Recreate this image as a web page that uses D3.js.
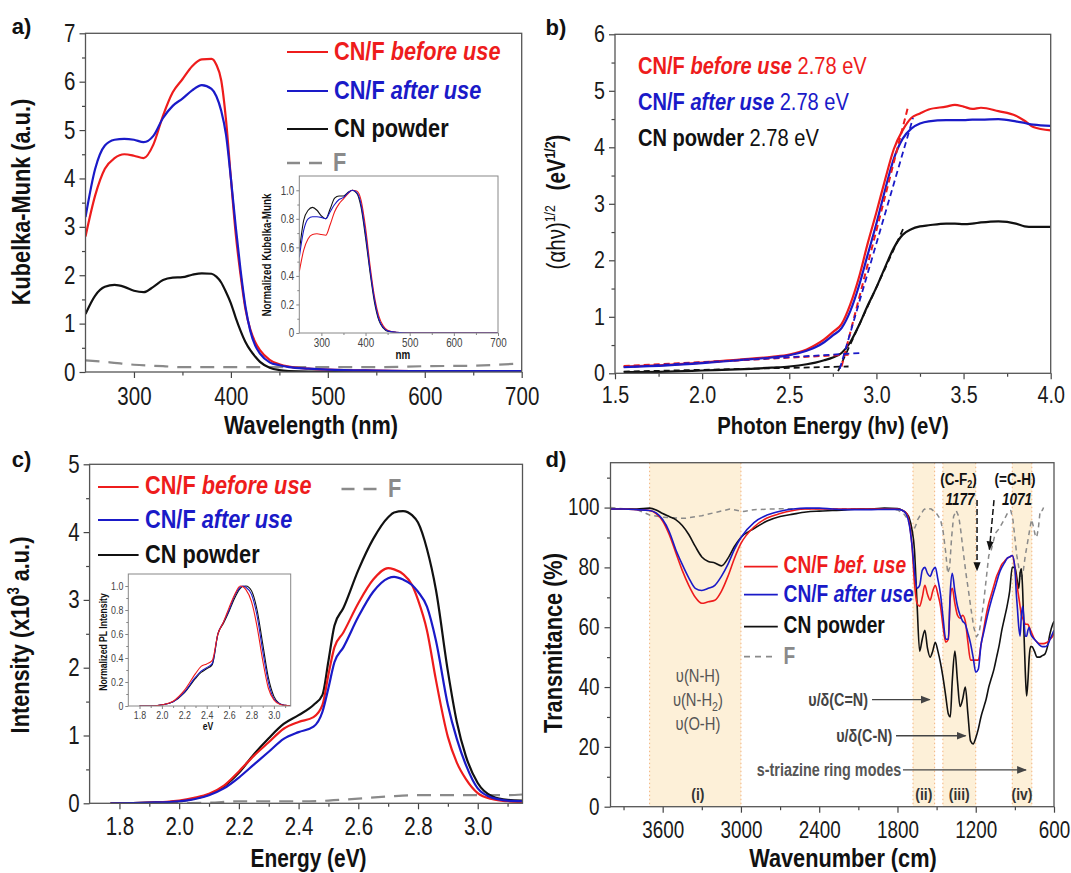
<!DOCTYPE html>
<html><head><meta charset="utf-8">
<script src="https://cdn.jsdelivr.net/npm/d3@7"></script>
<style>
body{margin:0;background:#fff;}
svg text{font-family:"Liberation Sans",Arial,sans-serif;}
</style></head><body>
<svg id="fig" width="1071" height="873"></svg>
<script>
// ---------- DATA ----------
// (a) Kubelka-Munk vs wavelength
const aWl = [250,260,270,280,290,300,310,320,330,340,350,360,370,380,385,390,395,400,405,410,415,420,425,430,440,450,460,480,500,550,600,650,700];
const aBefore = [2.8,3.65,4.2,4.42,4.5,4.47,4.42,4.7,5.3,5.78,6.05,6.32,6.46,6.47,6.35,6.03,5.2,4.0,2.85,2.0,1.3,0.88,0.62,0.45,0.25,0.16,0.11,0.07,0.05,0.03,0.02,0.02,0.02];
const aAfter  = [3.2,4.2,4.68,4.8,4.82,4.8,4.75,4.88,5.25,5.5,5.65,5.82,5.93,5.85,5.7,5.4,4.9,4.0,3.0,2.1,1.35,0.85,0.55,0.38,0.2,0.14,0.1,0.07,0.05,0.03,0.02,0.02,0.02];
const aCN     = [1.2,1.58,1.76,1.8,1.76,1.68,1.65,1.76,1.9,1.95,1.96,2.01,2.04,2.03,1.97,1.85,1.65,1.42,1.12,0.85,0.62,0.45,0.32,0.21,0.09,0.04,0.02,0.01,0.01,0.0,0.0,0.0,0.0];
const aFWl = [250,275,300,330,350,400,450,500,550,600,650,700];
const aF   = [0.24,0.2,0.15,0.12,0.1,0.1,0.1,0.1,0.1,0.12,0.13,0.18];
// (a) inset normalized
const anWl = [250,260,270,280,290,300,310,320,330,340,350,360,370,380,390,400,410,420,430,440,450,470,500,550,600,700];
const anBefore = [0.43,0.58,0.66,0.69,0.695,0.69,0.685,0.76,0.85,0.905,0.94,0.975,1.0,0.995,0.93,0.74,0.48,0.26,0.12,0.05,0.02,0.005,0,0,0,0];
const anAfter  = [0.53,0.72,0.8,0.815,0.815,0.81,0.8,0.85,0.9,0.935,0.95,0.98,1.0,0.985,0.9,0.7,0.45,0.24,0.1,0.04,0.015,0.005,0,0,0,0];
const anCN     = [0.57,0.79,0.86,0.88,0.86,0.82,0.8,0.87,0.945,0.96,0.96,0.985,1.0,0.98,0.88,0.67,0.43,0.22,0.09,0.035,0.012,0.004,0,0,0,0];
// (b) Tauc plot
const bE = [1.55,1.8,2.0,2.2,2.4,2.5,2.6,2.65,2.7,2.75,2.8,2.85,2.9,2.95,3.0,3.05,3.1,3.15,3.2,3.25,3.3,3.4,3.45,3.5,3.55,3.6,3.7,3.8,3.85,3.9,4.0];
const bBefore = [0.12,0.15,0.19,0.24,0.29,0.33,0.42,0.5,0.6,0.73,0.87,1.22,1.7,2.3,2.85,3.43,3.97,4.3,4.52,4.6,4.67,4.72,4.75,4.72,4.68,4.7,4.64,4.56,4.47,4.36,4.3];
const bAfter  = [0.11,0.14,0.18,0.23,0.28,0.32,0.4,0.46,0.55,0.67,0.8,1.1,1.55,2.1,2.65,3.25,3.8,4.15,4.33,4.42,4.46,4.48,4.48,4.48,4.49,4.49,4.5,4.46,4.43,4.4,4.38];
const bCN     = [0.02,0.03,0.05,0.07,0.1,0.12,0.16,0.19,0.23,0.28,0.36,0.55,0.85,1.2,1.52,1.88,2.22,2.45,2.55,2.6,2.62,2.65,2.65,2.64,2.65,2.67,2.69,2.65,2.6,2.59,2.59];
// (b) tangent fits [x, y] end points
const bFitBeforeBase = [[1.55,0.13],[2.84,0.33]];
const bFitBeforeEdge = [[2.80,0.12],[3.18,4.7]];
const bFitAfterBase  = [[1.55,0.11],[2.91,0.36]];
const bFitAfterEdge  = [[2.79,0.08],[3.21,4.52]];
const bFitCNBase     = [[1.55,0.03],[2.84,0.12]];
const bFitCNEdge     = [[2.78,0.04],[3.16,2.6]];
const bGap = ["2.78 eV","2.78 eV","2.78 eV"];
// (c) PL spectra
const cE = [1.77,1.9,2.0,2.05,2.1,2.15,2.2,2.25,2.3,2.35,2.4,2.45,2.48,2.5,2.52,2.55,2.6,2.65,2.7,2.72,2.75,2.78,2.8,2.83,2.86,2.9,2.93,2.96,3.0,3.05,3.1,3.15];
const cBefore = [0,0.01,0.04,0.08,0.14,0.26,0.47,0.7,0.9,1.1,1.2,1.27,1.45,1.9,2.3,2.52,2.95,3.3,3.47,3.45,3.38,3.22,3.0,2.55,1.82,0.98,0.6,0.36,0.15,0.06,0.03,0.02];
const cAfter  = [0,0.01,0.03,0.06,0.12,0.22,0.38,0.57,0.76,0.95,1.05,1.13,1.35,1.7,2.08,2.3,2.75,3.12,3.32,3.34,3.3,3.22,3.12,2.9,2.4,1.45,0.95,0.57,0.22,0.08,0.04,0.03];
const cCN     = [0,0.01,0.03,0.07,0.13,0.25,0.45,0.72,0.96,1.17,1.3,1.45,1.6,2.1,2.62,2.88,3.44,3.9,4.22,4.29,4.31,4.25,4.14,3.75,3.15,1.95,1.2,0.7,0.3,0.1,0.05,0.04];
const cFE = [1.95,2.1,2.2,2.3,2.4,2.5,2.6,2.7,2.8,2.9,3.0,3.1,3.15];
const cF  = [0,0.01,0.03,0.03,0.03,0.04,0.07,0.1,0.12,0.12,0.12,0.12,0.13];
// (c) inset normalized
const cnE = [1.8,1.9,2.0,2.1,2.2,2.3,2.35,2.4,2.45,2.5,2.55,2.6,2.65,2.7,2.72,2.75,2.8,2.85,2.9,2.95,3.0,3.05,3.1,3.15];
const cnBefore = [0,0,0.01,0.04,0.13,0.27,0.33,0.35,0.38,0.6,0.7,0.82,0.93,1.0,0.995,0.97,0.87,0.66,0.38,0.15,0.05,0.015,0.005,0];
const cnAfter  = [0,0,0.01,0.035,0.115,0.24,0.29,0.32,0.355,0.6,0.7,0.8,0.92,0.99,1.0,0.99,0.93,0.75,0.46,0.2,0.06,0.02,0.005,0];
const cnCN     = [0,0,0.01,0.035,0.11,0.23,0.28,0.31,0.345,0.6,0.69,0.79,0.9,0.98,0.995,1.0,0.96,0.8,0.52,0.24,0.08,0.02,0.005,0];
// (d) FTIR
const dWn = [4000,3900,3800,3700,3650,3600,3550,3500,3450,3400,3350,3300,3250,3200,3150,3100,3050,3000,2900,2800,2700,2600,2500,2400,2300,2200,2100,2000,1900,1800,1760,1730,1710,1690,1670,1650,1630,1610,1590,1570,1550,1530,1510,1490,1470,1450,1430,1410,1395,1380,1360,1340,1320,1300,1280,1260,1240,1220,1200,1180,1160,1140,1120,1100,1080,1060,1040,1020,1000,980,960,940,920,900,890,880,870,860,850,840,830,820,810,800,790,780,770,750,730,710,690,670,650,630,610,600];
const dCN = [99.5,99.5,99.5,99.8,99.2,98,97,96,94,91,87,83.5,82,81.5,80.5,83,87,90,93,95.5,97,97.8,98.5,98.8,99,99.2,99.5,99.5,99.8,99.7,99,98,96.5,93,86,68,52,56,59,53,50,52,55,52,48,43,37,31,30,42,52,42,33.5,36,40,31,22,21,23,26,30,33,36,40,43,46,50,54,59,63,67,72,80,80,78,75,73,78,79.5,72,58,45,37,42,50,53.5,53.5,52,50,50,50.5,51,53.5,58,61,62];
const dBefore = [99.5,99.5,99.3,99,98,95.5,91,85,79,74,70,68,68.5,69,72,77,83,88,93.5,96.5,98,99,99.5,99.5,99.5,99.5,99.5,99.5,99.5,99.5,99,98,95,88,75,68,67,70,74,71,69,72,74,71,67,60,55,56,70,73,68,64,63,64,62,55,49,49,49,49,54,59,64,68,71,74,77,79,81,82,83,83.5,84,80,76,73,70,67,64,63,62,61,61,61,60,59,58,56,55,54.5,54.5,54.6,55,56,57,58];
const dAfter  = [99.5,99.5,99.3,99,98.2,96,92,86,81,76.5,73,72.3,73,74,77,81,86,90,95,97.5,98.8,99.5,99.8,99.8,99.5,99.3,99.3,99.3,99.4,99.4,99,97.5,94.5,88,79,73,74,79,80,78,77,79,80,76,71,63,56,56,72,78,72,67,64,62,61,58,54.6,50,45,46,54,58,62,65.7,69,72,75,78,80,81.5,83,83.5,84,80,72,66,60,57,64,67,62,57,57,59,60,58,57,56,55,54,53.5,53.5,54,56,58,59];
const dFWn = [4000,3900,3800,3700,3600,3500,3428,3300,3164,3085,2979,2900,2700,2500,2200,2000,1850,1800,1753,1720,1686,1660,1645,1600,1579,1540,1500,1470,1450,1430,1415,1400,1385,1370,1350,1330,1315,1295,1275,1255,1235,1215,1195,1175,1160,1140,1120,1100,1080,1050,1020,997,970,950,931,915,900,885,870,851,835,820,800,785,772,760,745,733,720,706,690,680];
const dF   = [100,99.6,99.4,97.5,96.8,96.5,96.4,97.3,98.7,99.5,98.7,99.3,99.6,99.6,99.6,99.6,99.5,99.2,98,96,91.4,94,96,99.2,99.8,99.5,98,96,92,85,78,80,90,97,99,97,92.4,85,78,72,65.7,60,56.8,58,62,68,76,84,86,91.4,93,94.8,97,98.7,99,96,90,84,80,75.7,79,84,89,93,96,94,91,90,93,99,99,100];
// (d) bands [from, to] and labels
const dBands = [[3700,3000],[1681,1515],[1452,1200],[920,770]];
const dBandLabels = ["(i)","(ii)","(iii)","(iv)"];
const dBandLabelWn = [3330,1598,1326,845];

const RED="#ee1c1c", BLUE="#1a1ac8", BLACK="#111", GRAY="#8a8a8a";
const K = 0.82; // horizontal condensing (Arial Narrow look)

// ---------- HELPERS ----------
const svg = d3.select("#fig");
let clipId = 0;
function panel(o){
  const g = svg.append("g");
  const x = d3.scaleLinear().domain(o.xd).range([o.l,o.r]);
  const y = d3.scaleLinear().domain(o.yd).range([o.b,o.t]);
  const fs = o.fs;
  const ax = g.append("g").attr("transform",`translate(0,${o.b})`)
    .call(d3.axisBottom(x).tickValues(o.xt).tickFormat(o.fx).tickSize(o.ts||6).tickSizeOuter(0).tickPadding(o.tpx||4));
  const axm = g.append("g").attr("transform",`translate(0,${o.b})`)
    .call(d3.axisBottom(x).tickValues(o.xm).tickFormat("").tickSize(o.tsm||3.5).tickSizeOuter(0));
  const ay = g.append("g").attr("transform",`translate(${o.l},0)`)
    .call(d3.axisLeft(y).tickValues(o.yt).tickFormat(o.fy).tickSize(o.ts||6).tickSizeOuter(0).tickPadding(o.tpy||4));
  const aym = g.append("g").attr("transform",`translate(${o.l},0)`)
    .call(d3.axisLeft(y).tickValues(o.ym).tickFormat("").tickSize(o.tsm||3.5).tickSizeOuter(0));
  [ax,axm,ay,aym].forEach(a=>{a.select(".domain").remove();
    a.selectAll("line").attr("stroke",o.tc||"#444").attr("stroke-width",o.tw||1.2);
    a.selectAll("text").attr("font-size",fs).attr("fill","#1a1a1a");});
  const id = "clip"+(clipId++);
  svg.append("clipPath").attr("id",id).append("rect").attr("x",o.l).attr("y",o.t).attr("width",o.r-o.l).attr("height",o.b-o.t);
  const plot = g.append("g").attr("clip-path",`url(#${id})`);
  g.append("rect").attr("x",o.l).attr("y",o.t).attr("width",o.r-o.l).attr("height",o.b-o.t)
    .attr("fill","none").attr("stroke",o.fc||"#555").attr("stroke-width",o.fw||1.3);
  return {g,x,y,plot};
}
function series(p, xs, ys, color, w, dash, curve){
  const data = xs.map((v,i)=>[v,ys[i]]);
  const line = d3.line().x(d=>p.x(d[0])).y(d=>p.y(d[1])).curve(curve||d3.curveMonotoneX);
  const path = p.plot.append("path").datum(data).attr("d",line).attr("fill","none")
    .attr("stroke",color).attr("stroke-width",w).attr("stroke-linejoin","round");
  if(dash) path.attr("stroke-dasharray",dash);
  return path;
}
function seg(p, pts, color, w, dash){
  p.plot.append("path").datum(pts).attr("d",d3.line().x(d=>p.x(d[0])).y(d=>p.y(d[1])))
    .attr("fill","none").attr("stroke",color).attr("stroke-width",w).attr("stroke-dasharray",dash);
}
function txt(x,y,parts,o={}){
  const t = svg.append("text").attr("x",x).attr("y",y).attr("font-size",o.fs||24)
    .attr("text-anchor",o.anchor||"start");
  if(o.rotate) t.attr("transform",`rotate(-90,${x},${y})`);
  if(o.nocond) t.classed("nocond",true);
  parts.forEach(pt=>{
    const s = t.append("tspan").text(pt.t).attr("fill",pt.c||o.c||"#111")
      .attr("font-weight",pt.w||o.w||"bold").attr("font-style",pt.i?"italic":"normal");
    if(pt.fs) s.attr("font-size",pt.fs);
    if(pt.dy) s.attr("dy",pt.dy);
    if(pt.dx) s.attr("dx",pt.dx);
  });
  return t;
}
function legLine(x1,x2,y,color,w,dash){
  const l = svg.append("line").attr("x1",x1).attr("x2",x2).attr("y1",y).attr("y2",y)
    .attr("stroke",color).attr("stroke-width",w);
  if(dash) l.attr("stroke-dasharray",dash);
}
const f1 = d=>d===0?"0":d3.format(".1f")(d);
const fi = d=>String(d);
const ff = d=>d3.format(".1f")(d);

// ---------- PANEL A ----------
const pa = panel({l:85.5,r:521.7,t:33.3,b:372,xd:[250,700],yd:[0,7],
  xt:[300,400,500,600,700],xm:[350,450,550,650],yt:[0,1,2,3,4,5,6,7],ym:[0.5,1.5,2.5,3.5,4.5,5.5,6.5],
  fx:fi,fy:fi,fs:25,tpx:9,tpy:4});
series(pa,aFWl,aF,GRAY,2.2,"14,9");
series(pa,aWl,aCN,BLACK,2.2);
series(pa,aWl,aBefore,RED,2.2);
series(pa,aWl,aAfter,BLUE,2.2);
txt(11.8,34,[{t:"a)"}],{fs:22,nocond:true});
txt(30,202,[{t:"Kubelka-Munk (a.u.)"}],{fs:26.5,anchor:"middle",rotate:true});
txt(311,434,[{t:"Wavelength (nm)"}],{fs:26.5,anchor:"middle"});
legLine(287,328,52,RED,2.2); txt(334,60,[{t:"CN/F ",c:RED},{t:"before use",c:RED,i:true}],{fs:26.5});
legLine(287,328,91,BLUE,2.2); txt(334,99,[{t:"CN/F ",c:BLUE},{t:"after use",c:BLUE,i:true}],{fs:26.5});
legLine(287,328,129,BLACK,2.2); txt(334,137,[{t:"CN powder"}],{fs:26.5});
legLine(287,324,163,GRAY,2.4,"13,9"); txt(333,171,[{t:"F",c:GRAY}],{fs:26.5});
// inset a
const ia = panel({l:299.3,r:498,t:176,b:333,xd:[250,700],yd:[0,1.1],
  xt:[300,400,500,600,700],xm:[350,450,550,650],yt:[0,0.2,0.4,0.6,0.8,1.0],ym:[0.1,0.3,0.5,0.7,0.9],
  fx:fi,fy:f1,fs:12,ts:3,tsm:2,tpx:2,tpy:2,fc:"#888",fw:1,tc:"#666",tw:0.8});
ia.g.selectAll("text").attr("fill","#444");
series(ia,anWl,anCN,BLACK,1.1);
series(ia,anWl,anBefore,RED,1.1);
series(ia,anWl,anAfter,BLUE,1.1);
txt(403,359,[{t:"nm"}],{fs:12,anchor:"middle"});
txt(271,255,[{t:"Normalized Kubelka-Munk"}],{fs:12,anchor:"middle",rotate:true});

// ---------- PANEL B ----------
const pb = panel({l:615,r:1050.7,t:34.3,b:373.3,xd:[1.5,4.0],yd:[0,6],
  xt:[1.5,2.0,2.5,3.0,3.5,4.0],xm:[1.75,2.25,2.75,3.25,3.75],yt:[0,1,2,3,4,5,6],ym:[0.5,1.5,2.5,3.5,4.5,5.5],
  fx:ff,fy:fi,fs:24,tpx:7,tpy:4});
series(pb,bE,bCN,BLACK,2.2);
series(pb,bE,bBefore,RED,2.2);
series(pb,bE,bAfter,BLUE,2.2);
seg(pb,bFitCNBase,BLACK,1.8,"6,4"); seg(pb,bFitCNEdge,BLACK,1.8,"6,4");
seg(pb,bFitBeforeBase,RED,2,"6,4"); seg(pb,bFitBeforeEdge,RED,2,"6,4");
seg(pb,bFitAfterBase,BLUE,1.8,"6,4"); seg(pb,bFitAfterEdge,BLUE,1.8,"6,4");
txt(545.5,35,[{t:"b)"}],{fs:22,nocond:true});
txt(638,74,[{t:"CN/F ",c:RED},{t:"before use",c:RED,i:true},{t:" "+bGap[0],c:RED,w:"normal"}],{fs:24.5});
txt(638,110,[{t:"CN/F ",c:BLUE},{t:"after use",c:BLUE,i:true},{t:" "+bGap[1],c:BLUE,w:"normal"}],{fs:24.5});
txt(638,146,[{t:"CN powder"},{t:" "+bGap[2],w:"normal"}],{fs:24.5});
txt(565,202,[{t:"(αhν)",w:"normal"},{t:"1/2",w:"normal",fs:15,dy:-10},{t:"(eV",dy:10,dx:18},{t:"1/2",fs:15,dy:-10},{t:")",dy:10}],{fs:25,anchor:"middle",rotate:true});
txt(833,434,[{t:"Photon Energy (hν) (eV)"}],{fs:24.8,anchor:"middle"});

// ---------- PANEL C ----------
const pc = panel({l:89.6,r:522.5,t:464.3,b:803.3,xd:[1.7,3.15],yd:[0,5],
  xt:[1.8,2.0,2.2,2.4,2.6,2.8,3.0],xm:[1.9,2.1,2.3,2.5,2.7,2.9,3.1],yt:[0,1,2,3,4,5],ym:[0.5,1.5,2.5,3.5,4.5],
  fx:ff,fy:fi,fs:25,tpx:8,tpy:4});
series(pc,cFE,cF,GRAY,2.2,"14,9");
series(pc,cE,cCN,BLACK,2.2);
series(pc,cE,cBefore,RED,2.2);
series(pc,cE,cAfter,BLUE,2.2);
txt(11.8,467,[{t:"c)"}],{fs:22,nocond:true});
txt(29,635,[{t:"Intensity (x10"},{t:"3",fs:16,dy:-10},{t:" a.u.)",dy:10}],{fs:26.5,anchor:"middle",rotate:true});
txt(308.5,867,[{t:"Energy (eV)"}],{fs:25.5,anchor:"middle"});
legLine(98,138.6,487,RED,2.2); txt(145,494,[{t:"CN/F ",c:RED},{t:"before use",c:RED,i:true}],{fs:26.5});
legLine(98,138.6,520,BLUE,2.2); txt(145,528,[{t:"CN/F ",c:BLUE},{t:"after use",c:BLUE,i:true}],{fs:26.5});
legLine(98,138.6,555,BLACK,2.2); txt(145,563,[{t:"CN powder"}],{fs:26.5});
legLine(341.5,378,489,GRAY,2.4,"13,9"); txt(388,497,[{t:"F",c:GRAY}],{fs:26.5});
// inset c
const ic = panel({l:128.3,r:290.7,t:574,b:706,xd:[1.7,3.15],yd:[0,1.1],
  xt:[1.8,2.0,2.2,2.4,2.6,2.8,3.0],xm:[1.9,2.1,2.3,2.5,2.7,2.9,3.1],yt:[0,0.2,0.4,0.6,0.8,1.0],ym:[0.1,0.3,0.5,0.7,0.9],
  fx:ff,fy:f1,fs:10.8,ts:3,tsm:2,tpx:2,tpy:2,fc:"#888",fw:1,tc:"#666",tw:0.8});
ic.g.selectAll("text").attr("fill","#444");
series(ic,cnE,cnCN,BLACK,1.1);
series(ic,cnE,cnAfter,BLUE,1.1);
series(ic,cnE,cnBefore,RED,1.1);
txt(208,730,[{t:"eV"}],{fs:10.5,anchor:"middle"});
txt(107,642,[{t:"Normalized PL Intensity"}],{fs:10.5,anchor:"middle",rotate:true});

// ---------- PANEL D ----------
const pd = panel({l:610.5,r:1054,t:462.7,b:806.7,xd:[4000,600],yd:[0,115],
  xt:[3600,3000,2400,1800,1200,600],xm:[3900,3300,2700,2100,1500,900],yt:[0,20,40,60,80,100],ym:[10,30,50,70,90,110],
  fx:fi,fy:fi,fs:23,tpx:9,tpy:5});
const bandG = pd.plot.append("g");
dBands.forEach(b=>{
  const x0 = pd.x(b[0]), x1 = pd.x(b[1]);
  bandG.append("rect").attr("x",x0).attr("y",pd.y(115)).attr("width",x1-x0).attr("height",pd.y(0)-pd.y(115)).attr("fill","#fdf0d8");
  [x0,x1].forEach(xx=>bandG.append("line").attr("x1",xx).attr("x2",xx).attr("y1",pd.y(115)).attr("y2",pd.y(0))
    .attr("stroke","#f3b37c").attr("stroke-width",1).attr("stroke-dasharray","1.5,2.5"));
});
series(pd,dFWn,dF,GRAY,1.5,"5,4",d3.curveLinear);
series(pd,dWn,dCN,BLACK,1.6);
series(pd,dWn,dBefore,RED,1.6);
series(pd,dWn,dAfter,BLUE,1.6);
dBandLabels.forEach((s,i)=>txt(pd.x(dBandLabelWn[i]),800,[{t:s}],{fs:17,anchor:"middle",c:"#333"}));
txt(545.5,467,[{t:"d)"}],{fs:22,nocond:true});
txt(562,643,[{t:"Transmitance (%)"}],{fs:26.5,anchor:"middle",rotate:true});
txt(843,867,[{t:"Wavenumber (cm)"}],{fs:26.5,anchor:"middle"});
legLine(744,777.8,566.7,RED,1.8); txt(783.6,573.5,[{t:"CN/F ",c:RED},{t:"bef. use",c:RED,i:true}],{fs:23.4});
legLine(744,777.8,594.7,BLUE,1.8); txt(783.6,602,[{t:"CN/F ",c:BLUE},{t:"after use",c:BLUE,i:true}],{fs:23.4});
legLine(744,777.8,626.7,BLACK,1.8); txt(783.6,633.5,[{t:"CN powder"}],{fs:23.4});
legLine(744,777,656.7,GRAY,1.8,"6,5"); txt(783.6,664,[{t:"F",c:GRAY}],{fs:23.4});
const nhX = pd.x(3330);
txt(nhX,682,[{t:"υ(N-H)"}],{fs:18,anchor:"middle",c:"#555",w:"normal"});
txt(nhX,706,[{t:"υ(N-H"},{t:"2",fs:13,dy:5},{t:")",dy:-5}],{fs:18,anchor:"middle",c:"#555",w:"normal"});
txt(nhX,730,[{t:"υ(O-H)"}],{fs:18,anchor:"middle",c:"#555",w:"normal"});
const defs = svg.append("defs");
defs.append("marker").attr("id","arr").attr("viewBox","0 0 10 10").attr("refX",9).attr("refY",5)
  .attr("markerWidth",7).attr("markerHeight",7).attr("orient","auto")
  .append("path").attr("d","M0,1 L10,5 L0,9 z").attr("fill","#444");
defs.append("marker").attr("id","arrk").attr("viewBox","0 0 10 10").attr("refX",9).attr("refY",5)
  .attr("markerWidth",6).attr("markerHeight",6).attr("orient","auto")
  .append("path").attr("d","M0,1 L10,5 L0,9 z").attr("fill","#111");
const annos = [
  {label:[{t:"υ/δ(C=N)"}], txtWn:2026, fromWn:1995, toWn:1553, v:35.8, fs:17.5, c:"#444"},
  {label:[{t:"υ/δ(C-N)"}], txtWn:1839, fromWn:1811, toWn:1278, v:23.7, fs:17.5, c:"#444"},
  {label:[{t:"s-triazine ring modes"}], txtWn:1772, fromWn:1758, toWn:815, v:12.3, fs:17.5, c:"#555"}
];
annos.forEach(a=>{
  txt(pd.x(a.txtWn),pd.y(a.v)+6,a.label,{fs:a.fs,anchor:"end",c:a.c});
  svg.append("line").attr("x1",pd.x(a.fromWn)).attr("x2",pd.x(a.toWn)).attr("y1",pd.y(a.v)).attr("y2",pd.y(a.v))
    .attr("stroke","#444").attr("stroke-width",1.4).attr("marker-end","url(#arr)");
});
txt(958.5,485,[{t:"(C-F"},{t:"2",fs:11,dy:3},{t:")",dy:-3}],{fs:16.5,anchor:"middle"});
txt(960,505,[{t:"1177",i:true}],{fs:16.5,anchor:"middle"});
txt(1015,485,[{t:"(=C-H)"}],{fs:16.5,anchor:"middle"});
txt(1017,505,[{t:"1071",i:true}],{fs:16.5,anchor:"middle"});
const pk = [[1190,102.5,1190,79],[1060,102.5,1095,86]];
pk.forEach(p=>svg.append("line").attr("x1",pd.x(p[0])).attr("y1",pd.y(p[1])).attr("x2",pd.x(p[2])).attr("y2",pd.y(p[3]))
  .attr("stroke","#111").attr("stroke-width",1.5).attr("stroke-dasharray","6,3").attr("marker-end","url(#arrk)"));

// ---------- condense all text horizontally (narrow face look) ----------
svg.selectAll("text").each(function(){
  if(this.classList.contains("nocond")) return;
  const x0 = +(this.getAttribute("x")||0), y0 = +(this.getAttribute("y")||0);
  const t = this.getAttribute("transform")||"";
  this.setAttribute("transform", `${t} translate(${x0},${y0}) scale(${K},1) translate(${-x0},${-y0})`);
});
</script></body></html>
